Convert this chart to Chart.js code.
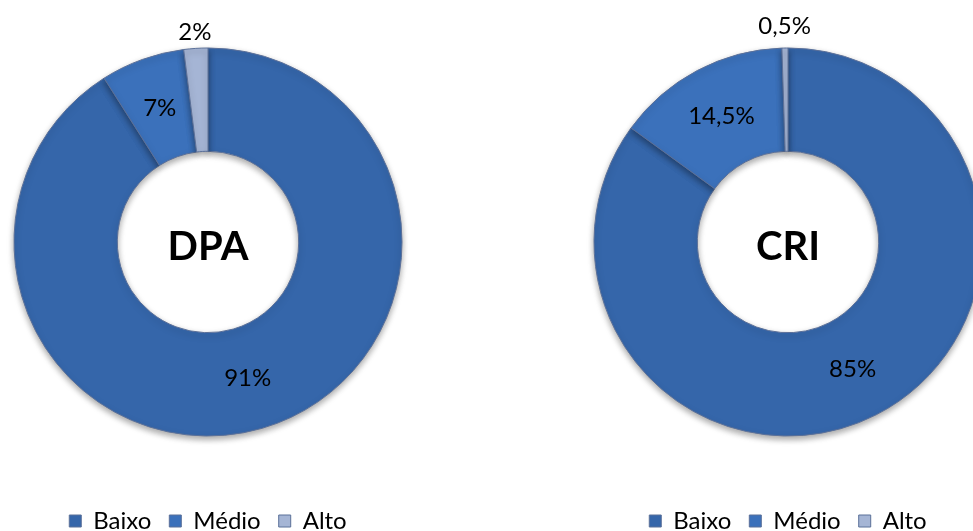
<!DOCTYPE html>
<html>
<head>
<meta charset="utf-8">
<script src="https://cdn.jsdelivr.net/npm/chart.js@4"></script>
<style>
  html, body { margin: 0; padding: 0; background: #fff; overflow: hidden; }
  body { width: 973px; height: 531px; position: relative; }
  .caixa { position: absolute; top: -7px; }
</style>
</head>
<body>
<div class="caixa" style="left:0px"><canvas id="graficoDPA" width="416" height="550"></canvas></div>
<div class="caixa" style="left:580px"><canvas id="graficoCRI" width="416" height="550"></canvas></div>
<script>
// Dados
const categorias = ['Baixo', 'Médio', 'Alto'];
const valoresDPA = [91, 7, 2];
const valoresCRI = [85, 14.5, 0.5];
const rotulosDPA = ['91%', '7%', '2%'];
const rotulosCRI = ['85%', '14,5%', '0,5%'];

const cores = ['#3566aa', '#3b71bb', '#a5b5d5'];
const fonte = 'Lato, "Open Sans", sans-serif';

// Plugin para escrever os rótulos e o título central
const pluginRotulos = {
    id: 'rotulos',
    beforeDatasetsDraw(chart) {
        const ctx = chart.ctx;
        ctx.save();
        ctx.shadowColor = 'rgba(0,0,0,0.35)';
        ctx.shadowBlur = 6;
        ctx.shadowOffsetY = 3;
    },
    afterDatasetsDraw(chart) {
        chart.ctx.restore();
    },
    afterDraw(chart, args, opts) {
        const ctx = chart.ctx;
        const meta = chart.getDatasetMeta(0);
        ctx.save();
        ctx.fillStyle = '#000';
        ctx.textAlign = 'center';
        ctx.textBaseline = 'middle';
        ctx.font = '24px ' + fonte;
        meta.data.forEach((arco, i) => {
            const valor = chart.data.datasets[0].data[i];
            let x, y;
            if (valor < 3) {
                const ang = (arco.startAngle + arco.endAngle) / 2;
                const r = arco.outerRadius + opts.fora;
                x = arco.x + Math.cos(ang) * r;
                y = arco.y + Math.sin(ang) * r;
            } else {
                const p = arco.getCenterPoint();
                x = p.x;
                y = p.y;
            }
            ctx.fillText(opts.textos[i], x, y);
        });
        const a0 = meta.data[0];
        ctx.font = 'bold 40px ' + fonte;
        ctx.fillText(opts.titulo, a0.x, a0.y + 5);
        ctx.restore();
    }
};

function criarGrafico(id, valores, textos, titulo, fora) {
    const ctx = document.getElementById(id).getContext('2d');
    return new Chart(ctx, {
        type: 'doughnut',
        data: {
            labels: categorias,
            datasets: [{
                data: valores,
                backgroundColor: cores,
                borderColor: '#5b7099',
                borderWidth: 1,
                radius: 194,
                cutout: 97
            }]
        },
        options: {
            responsive: false,
            animation: false,
            layout: { padding: 0 },
            plugins: {
                tooltip: { enabled: false },
                legend: {
                    position: 'bottom',
                    labels: {
                        boxWidth: 12,
                        boxHeight: 12,
                        padding: 18,
                        color: '#000',
                        font: { family: fonte, size: 24 }
                    }
                },
                rotulos: { textos: textos, titulo: titulo, fora: fora }
            }
        },
        plugins: [pluginRotulos]
    });
}

criarGrafico('graficoDPA', valoresDPA, rotulosDPA, 'DPA', 16);
criarGrafico('graficoCRI', valoresCRI, rotulosCRI, 'CRI', 22);
</script>
</body>
</html>
